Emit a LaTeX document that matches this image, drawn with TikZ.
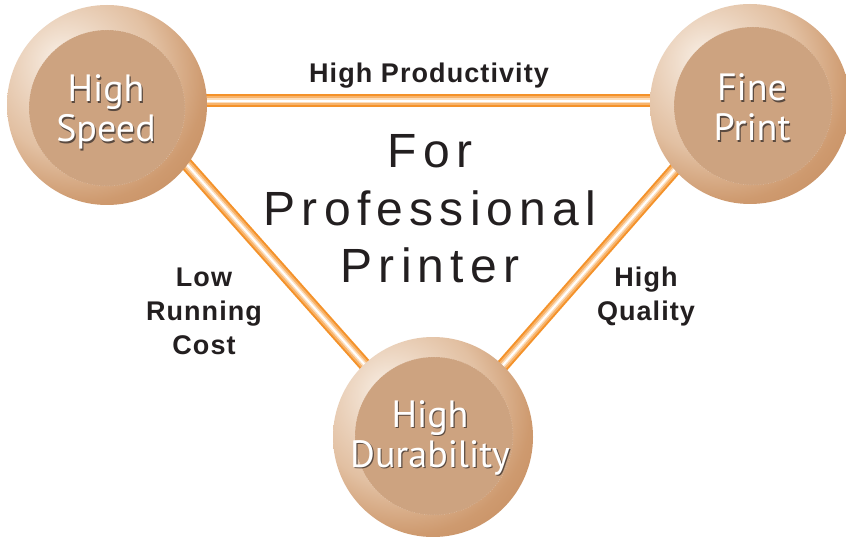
\documentclass[tikz,border=0pt]{standalone}
\usepackage{fontspec}
\setmainfont{Liberation Sans}
\newfontfamily\labfont{Liberation Sans}[LetterSpace=4]
\newfontfamily\bigfont{Liberation Sans}[LetterSpace=13]
\newfontfamily\cfont{PT Sans}
\usetikzlibrary{calc}
\definecolor{pipeO}{HTML}{F4922A}
\definecolor{pipeM}{HTML}{F8B46C}
\definecolor{pipeL}{HTML}{FCDDBB}
\definecolor{innerc}{HTML}{CDA380}
\definecolor{txt}{HTML}{231F20}
\definecolor{shd}{HTML}{5A4A40}
\definecolor{ringA}{HTML}{F8EEE4}
\definecolor{ringB}{HTML}{E2C0A2}
\definecolor{ringC}{HTML}{CE9A6F}
\definecolor{ringD}{HTML}{C18658}
\definecolor{ringE}{HTML}{B97B4C}
\pgfdeclareradialshading{ringshade}{\pgfpoint{-12bp}{12bp}}{color(0bp)=(ringA); color(21bp)=(ringB); color(31bp)=(ringC); color(43bp)=(ringD); color(70bp)=(ringE)}
\pgfdeclarelayer{bg}
\pgfsetlayers{bg,main}
\newcommand\shtxt[1]{\makebox[0pt][l]{\hspace{1.2pt}\raisebox{-1.4pt}{\textcolor{shd}{#1}}}#1}
\tikzset{
  ringnode/.style={circle, minimum size=200pt, inner sep=0pt, shade, shading=ringshade},
  innerdisc/.style={fill=innerc},
  pipe/.style={line width=2pt, draw=white, preaction={draw=pipeO, line width=13pt}, preaction={draw=pipeM, line width=9pt}, preaction={draw=pipeL, line width=5pt}},
  ctext/.style={text=white, font=\cfont\fontsize{38}{40}\selectfont, inner sep=0pt},
  lab/.style={text=txt, font=\labfont\bfseries\fontsize{27}{34}\selectfont, inner sep=0pt},
  bigtxt/.style={text=txt, font=\bigfont\fontsize{48}{57.5}\selectfont, inner sep=0pt}
}
\begin{document}
\begin{tikzpicture}[x=1pt, y=-1pt]
\useasboundingbox (0,0) rectangle (846,537);
\begin{pgfonlayer}{bg}
\fill[white] (0,0) rectangle (846,537);
\end{pgfonlayer}
% circles
\node[ringnode] (hs) at (107,105) {};
\node[ringnode] (fp) at (750,104) {};
\node[ringnode] (hd) at (433,437) {};
\fill[innerdisc] ($(hs)+(0,3)$) circle (78pt);
\fill[innerdisc] ($(fp)+(3,2)$) circle (79pt);
\fill[innerdisc] ($(hd)+(1,-1)$) circle (79pt);
\draw[white, opacity=.4, line width=.5pt, dotted] ($(hs)+(0,3)$) circle (78pt);
\draw[white, opacity=.4, line width=.5pt, dotted] ($(fp)+(3,2)$) circle (79pt);
\draw[white, opacity=.4, line width=.5pt, dotted] ($(hd)+(1,-1)$) circle (79pt);
% connectors
\begin{pgfonlayer}{bg}
\draw[pipe] ([yshift=4pt]hs.center) -- ([yshift=3pt]fp.center);
\draw[pipe] ([xshift=27pt]hs.center) -- ([xshift=-4pt]hd.center);
\draw[pipe] ([xshift=-18pt]fp.center) -- ([xshift=7pt]hd.center);
\end{pgfonlayer}
% circle texts
\node[ctext, anchor=base] (hsT) at (106,102) {\begin{tabular}[t]{@{}c@{}}\shtxt{High}\\\shtxt{Speed}\end{tabular}};
\node[ctext, anchor=base] (fpT) at (752,101) {\begin{tabular}[t]{@{}c@{}}\shtxt{Fine}\\\shtxt{Print}\end{tabular}};
\node[ctext, anchor=base] (hdT) at (430,427) {\begin{tabular}[t]{@{}c@{}}\shtxt{High}\\\shtxt{Durability}\end{tabular}};
% labels
\node[lab, anchor=base] (hp) at (429,83) {High Productivity};
\node[lab, anchor=base] (lrc) at (204,287) {\begin{tabular}[t]{@{}c@{}}Low\\Running\\Cost\end{tabular}};
\node[lab, anchor=base] (hq) at (646,287) {\begin{tabular}[t]{@{}c@{}}High\\Quality\end{tabular}};
\node[bigtxt, anchor=base] (title) at (430,168) {\begin{tabular}[t]{@{}c@{}}For\\Professional\\Printer\end{tabular}};
\end{tikzpicture}
\end{document}
